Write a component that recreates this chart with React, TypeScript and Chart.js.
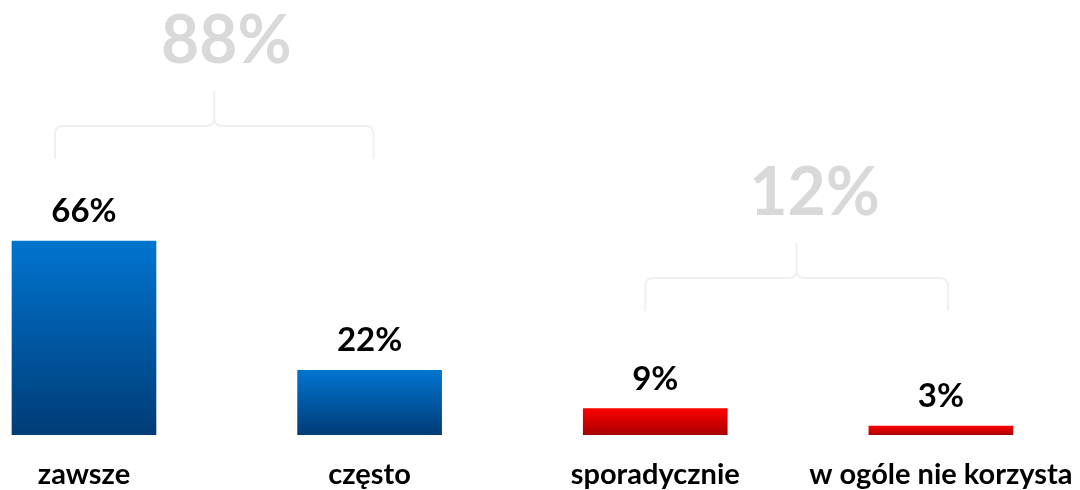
import React, { useEffect, useRef } from "react";
import { Chart, registerables } from "chart.js";

Chart.register(...registerables);

const categories = ["zawsze", "często", "sporadycznie", "w ogóle nie korzysta"];
const values = [66, 22, 9, 3];
const groupMembers = [[0, 1], [2, 3]];
const topColors = ["#0074CF", "#0074CF", "#FF0000", "#FF0000"];
const bottomColors = ["#003C77", "#003C77", "#A80000", "#A80000"];

const FONT = "Lato, 'Open Sans', sans-serif";

export default function App() {
  const ref = useRef<HTMLCanvasElement | null>(null);

  useEffect(() => {
    document.body.style.margin = "0";
    const canvas = ref.current;
    if (!canvas) return;

    const valueLabels = {
      id: "valueLabels",
      afterDatasetsDraw(chart: any) {
        const ctx = chart.ctx;
        const meta = chart.getDatasetMeta(0);
        ctx.save();
        ctx.font = `bold 33px ${FONT}`;
        ctx.fillStyle = "#000000";
        ctx.textAlign = "center";
        ctx.textBaseline = "alphabetic";
        meta.data.forEach((bar: any, i: number) => {
          ctx.fillText(values[i] + "%", bar.x, bar.y - 19);
        });
        ctx.restore();
      },
    };

    const brackets = {
      id: "brackets",
      afterDraw(chart: any) {
        const ctx = chart.ctx;
        const xs = chart.scales.x;
        const specs = [
          { dl: -29, dr: 4, bottom: 159, textDx: 12 },
          { dl: -10, dr: 7, bottom: 311, textDx: 18 },
        ];
        groupMembers.forEach((g, gi) => {
          const s = specs[gi];
          const L = xs.getPixelForValue(g[0]) + s.dl;
          const R = xs.getPixelForValue(g[g.length - 1]) + s.dr;
          const C = (L + R) / 2;
          const bottom = s.bottom;
          const top = bottom - 33;
          const peak = top - 35;
          const r = 8;
          ctx.save();
          ctx.strokeStyle = "#F0F0F0";
          ctx.lineWidth = 2;
          ctx.beginPath();
          ctx.moveTo(L, bottom);
          ctx.lineTo(L, top + r);
          ctx.quadraticCurveTo(L, top, L + r, top);
          ctx.lineTo(C - r, top);
          ctx.quadraticCurveTo(C, top, C, top - r);
          ctx.lineTo(C, peak);
          ctx.moveTo(C, top - r);
          ctx.quadraticCurveTo(C, top, C + r, top);
          ctx.lineTo(R - r, top);
          ctx.quadraticCurveTo(R, top, R, top + r);
          ctx.lineTo(R, bottom);
          ctx.stroke();
          const sum = g.reduce((a, i) => a + values[i], 0);
          ctx.font = `bold 66px ${FONT}`;
          ctx.fillStyle = "#D9D9D9";
          ctx.textAlign = "center";
          ctx.textBaseline = "alphabetic";
          ctx.fillText(sum + "%", C + s.textDx, peak - 28);
          ctx.restore();
        });
      },
    };

    const chart = new Chart(canvas, {
      type: "bar",
      data: {
        datasets: [
          {
            data: values.map((v, i) => ({ x: i, y: v })),
            barThickness: 144,
            borderWidth: 0,
            backgroundColor: (c: any) => {
              const chart = c.chart;
              const ys = chart.scales.y;
              const i = c.dataIndex;
              if (!ys || i == null || !chart.chartArea) return topColors[i ?? 0];
              const yTop = ys.getPixelForValue(values[i]);
              const yBot = ys.getPixelForValue(0);
              const g = chart.ctx.createLinearGradient(0, yTop, 0, yBot);
              g.addColorStop(0, topColors[i]);
              g.addColorStop(1, bottomColors[i]);
              return g;
            },
          },
        ],
      },
      options: {
        responsive: false,
        animation: false,
        layout: { padding: 0 },
        plugins: {
          legend: { display: false },
          tooltip: { enabled: false },
          title: { display: false },
        },
        scales: {
          x: {
            type: "linear",
            offset: false,
            min: -0.294,
            max: 3.487,
            grid: { display: false, offset: false },
            border: { display: false },
            afterBuildTicks: (scale: any) => {
              scale.ticks = categories.map((_, i) => ({ value: i }));
            },
            afterFit: (scale: any) => {
              scale.height = 55;
              scale.paddingLeft = 0;
              scale.paddingRight = 0;
            },
            ticks: {
              autoSkip: false,
              maxRotation: 0,
              padding: 14,
              color: "#000000",
              font: { family: FONT, size: 29, weight: "bold" },
              callback: (v: any) => categories[Math.round(Number(v))] ?? "",
            },
          },
          y: {
            display: false,
            min: 0,
            max: 148,
          },
        },
      },
      plugins: [valueLabels, brackets],
    } as any);

    return () => chart.destroy();
  }, []);

  return (
    <div style={{ width: 1080, height: 490, background: "#ffffff" }}>
      <canvas ref={ref} width={1080} height={490} />
    </div>
  );
}
